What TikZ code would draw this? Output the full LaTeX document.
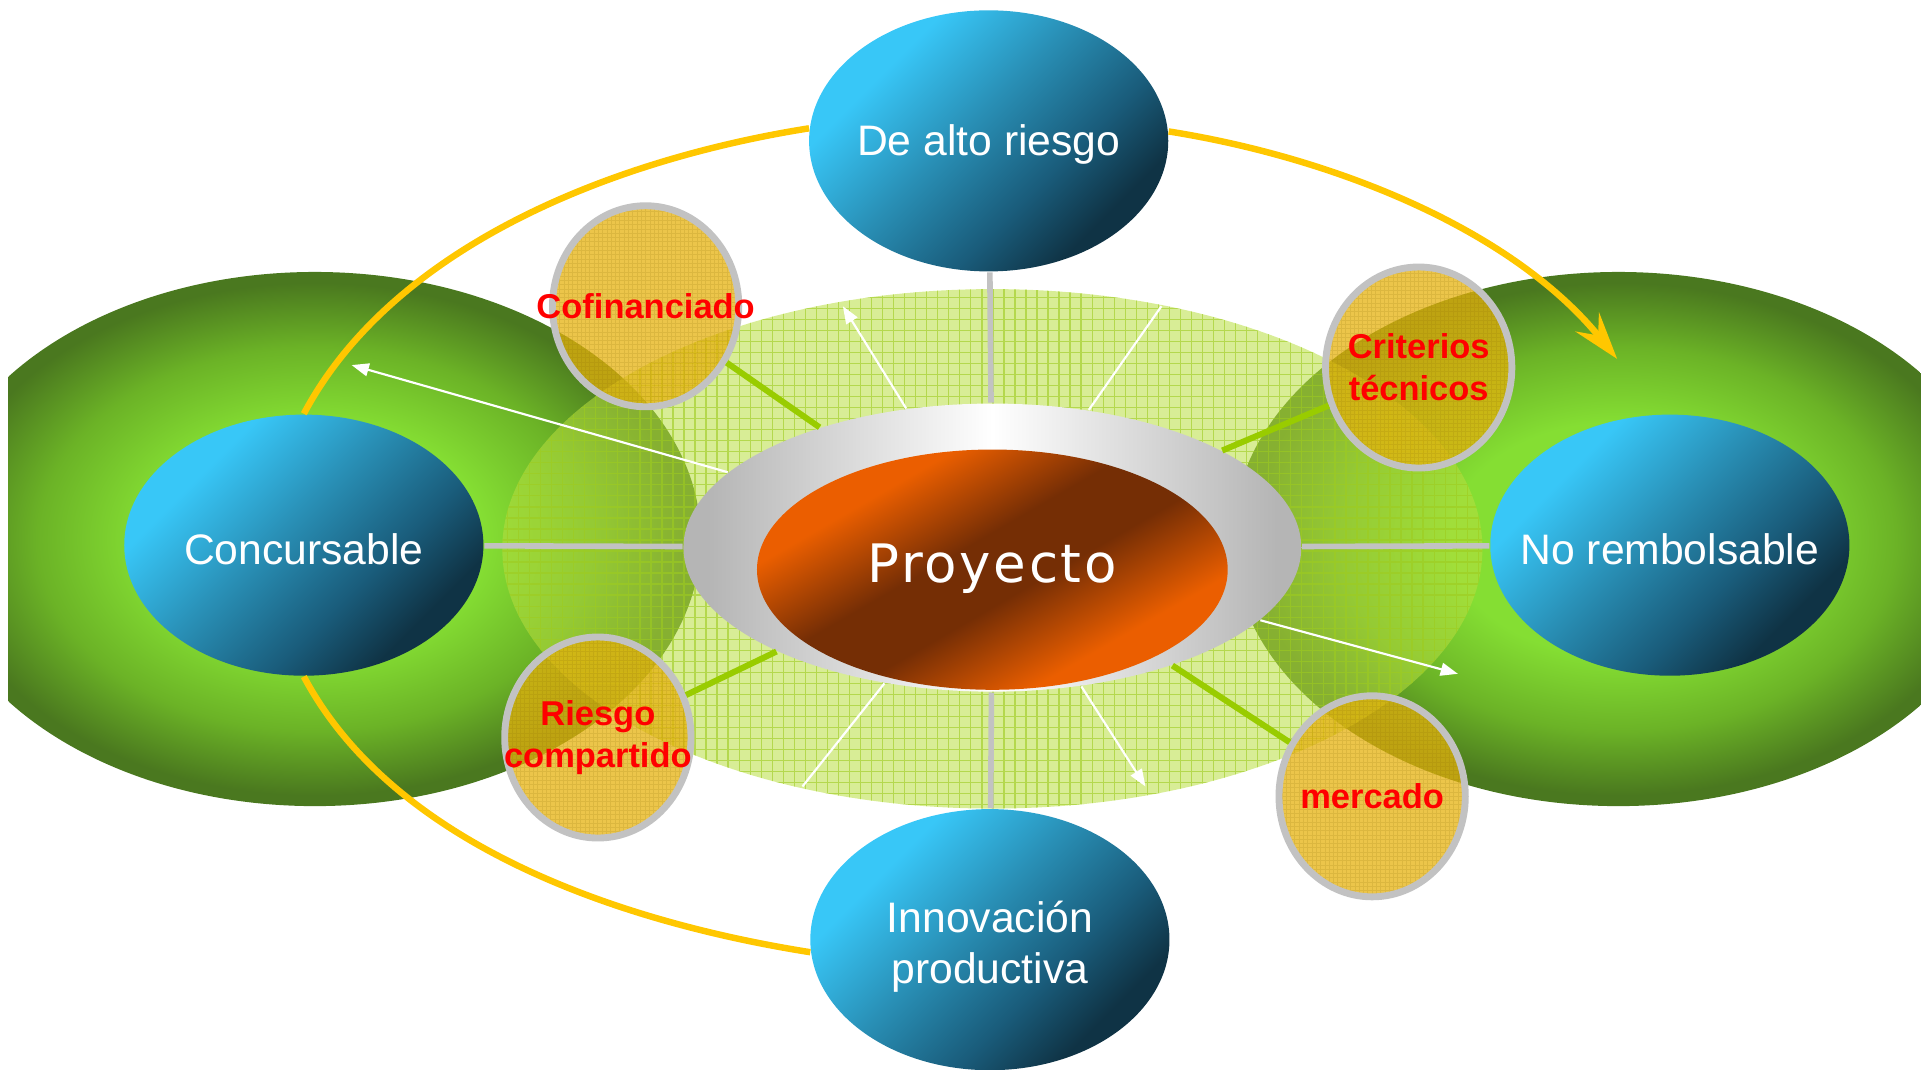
\documentclass[tikz,border=0pt]{standalone}
\usepackage{fontspec}
\setmainfont{Liberation Sans}
\newfontfamily\proyfont{DejaVu Sans}[LetterSpace=5]
\usetikzlibrary{shapes.geometric,arrows.meta}

\definecolor{amarillo}{rgb}{1,.78,0}
\definecolor{gris}{rgb}{.76,.76,.76}
\definecolor{verdelinea}{rgb}{.6,.8,0}
\definecolor{oro}{rgb}{.9,.7,.05}
\definecolor{verdepasto}{rgb}{.72,.87,.25}
\definecolor{rejilla}{rgb}{.62,.8,.12}
\definecolor{verdeA}{rgb}{.52,.87,.2}
\definecolor{verdeB}{rgb}{.42,.7,.15}
\definecolor{verdeC}{rgb}{.29,.47,.12}
\definecolor{azulA}{rgb}{.22,.78,.97}
\definecolor{azulB}{rgb}{.16,.56,.71}
\definecolor{azulC}{rgb}{.1,.36,.48}
\definecolor{azulD}{rgb}{.06,.2,.27}
\definecolor{naranjaA}{rgb}{.92,.37,0}
\definecolor{naranjaB}{rgb}{.46,.18,.02}
\definecolor{plataA}{rgb}{.71,.71,.71}

\pgfdeclareradialshading{verdebola}{\pgfpoint{0bp}{0bp}}{color(0bp)=(verdeA); color(11bp)=(verdeA); color(18bp)=(verdeB); color(24bp)=(verdeC); color(50bp)=(verdeC)}
\pgfdeclarehorizontalshading{azulbola}{100bp}{color(0bp)=(azulA); color(30bp)=(azulA); color(46bp)=(azulB); color(61bp)=(azulC); color(72bp)=(azulD); color(100bp)=(azulD)}
\pgfdeclarehorizontalshading{naranja}{100bp}{color(0bp)=(naranjaA); color(31bp)=(naranjaA); color(45bp)=(naranjaB); color(55bp)=(naranjaB); color(69bp)=(naranjaA); color(100bp)=(naranjaA)}
\pgfdeclarehorizontalshading{plata}{100bp}{color(0bp)=(plataA); color(27bp)=(plataA); color(50bp)=(white); color(73bp)=(plataA); color(100bp)=(plataA)}

\begin{document}
\begin{tikzpicture}[x=0.01cm, y=0.01cm,
	bola/.style={ellipse, inner sep=0pt, minimum width=2.93cm, minimum height=2.13cm, shade, shading=azulbola, shading angle=-45},
	txtbola/.style={text=white, align=center, yshift=-.03cm, font=\fontsize{9.9}{11.9}\selectfont},
	circulo/.style={ellipse, inner sep=0pt, minimum width=1.52cm, minimum height=1.64cm, draw=gris, line width=1.6pt, fill=oro, fill opacity=.75,
		path picture={\draw[oro!60!black, draw opacity=.15, line width=.2pt, step=.035cm] (path picture bounding box.south west) grid (path picture bounding box.north east);}},
	txtrojo/.style={text=red, align=center, font=\bfseries\fontsize{8}{9.8}\selectfont},
	eje/.style={gris, line width=1.3pt},
	rayo/.style={verdelinea, line width=1.4pt},
	linea/.style={white, line width=.5pt},
	flecha/.style={white, line width=.5pt, -{Triangle[length=4pt, width=3pt]}},
	arco/.style={amarillo, line width=1.5pt, looseness=.85}]
	
	\useasboundingbox (0,0) rectangle (1568,873);
	
	% fondo verde
	\begin{scope}
		\clip (7,0) rectangle (1568,873);
		\shade[shading=verdebola] (257,433) ellipse [x radius=315, y radius=218];
		\shade[shading=verdebola] (1321,433) ellipse [x radius=315, y radius=218];
	\end{scope}
	
	% elipse cuadriculada
	\begin{scope}
		\clip (810,425) ellipse [x radius=400, y radius=212];
		\fill[verdepasto, opacity=.55] (400,200) rectangle (1220,650);
		\draw[rejilla, line width=.3pt, step=.09cm, opacity=.6] (400,200) grid (1220,650);
	\end{scope}
	
	\node[ellipse, inner sep=0pt, minimum width=5.04cm, minimum height=2.35cm, shade, shading=plata] (anillo) at (810,426) {};
	\node[ellipse, inner sep=0pt, minimum width=3.84cm, minimum height=1.96cm, shade, shading=naranja, shading angle=-60] (proy) at (810,408) {};
	\node[text=white, font=\proyfont\fontsize{12.3}{14}\selectfont] (t-proy) at (810,409) {Proyecto};
	
	\node[bola] (alto) at (807,758) {};
	\node[bola] (conc) at (248,428) {};
	\node[bola] (noreb) at (1363,428) {};
	\node[bola] (inno) at (808,106) {};
	\node[txtbola] (t-alto) at (alto) {De alto riesgo};
	\node[txtbola] (t-conc) at (conc) {Concursable};
	\node[txtbola] (t-noreb) at (noreb) {No rembolsable};
	\node[txtbola, yshift=-.03cm] (t-inno) at (inno) {Innovación\\productiva};
	
	\node[circulo] (cofin) at (527,623) {};
	\node[circulo] (crit) at (1158,573) {};
	\node[circulo] (riesgo) at (488,271) {};
	\node[circulo] (merc) at (1120,223) {};
	\node[txtrojo] (t-cofin) at (cofin) {Cofinanciado};
	\node[txtrojo] (t-crit) at (crit) {Criterios\\técnicos};
	\node[txtrojo] (t-riesgo) at (riesgo) {Riesgo\\compartido};
	\node[txtrojo] (t-merc) at (merc) {mercado};
	
	\draw[eje] (alto) -- (anillo);
	\draw[eje] (inno) -- (anillo);
	\draw[eje] (conc) -- (anillo);
	\draw[eje] (noreb) -- (anillo);
	
	\draw[rayo] (cofin) -- (anillo);
	\draw[rayo] (crit) -- (anillo);
	\draw[rayo] (riesgo) -- (anillo);
	\draw[rayo] (merc) -- (anillo);
	
	\coordinate (w1) at (688,623);
	\coordinate (w2) at (948,623);
	\coordinate (w3) at (655,231);
	\coordinate (w4) at (935,231);
	\coordinate (w5) at (287,575);
	\coordinate (w6) at (1190,323);
	\draw[flecha] (anillo) -- (w1);
	\draw[linea] (anillo) -- (w2);
	\draw[linea] (anillo) -- (w3);
	\draw[flecha] (anillo) -- (w4);
	\draw[flecha] (anillo) -- (w5);
	\draw[flecha] (anillo) -- (w6);
	
	% arcos amarillos
	\coordinate (punta) at (1320,580);
	\draw[arco] (conc.north) to[out=62, in=189] (alto.176);
	\draw[arco, -{Stealth[length=11pt, width=7pt, inset=4pt]}] (alto.3) to[out=-9, in=129] (punta);
	\draw[arco] (conc.south) to[out=-62, in=171] (inno.184);
	
\end{tikzpicture}
\end{document}
